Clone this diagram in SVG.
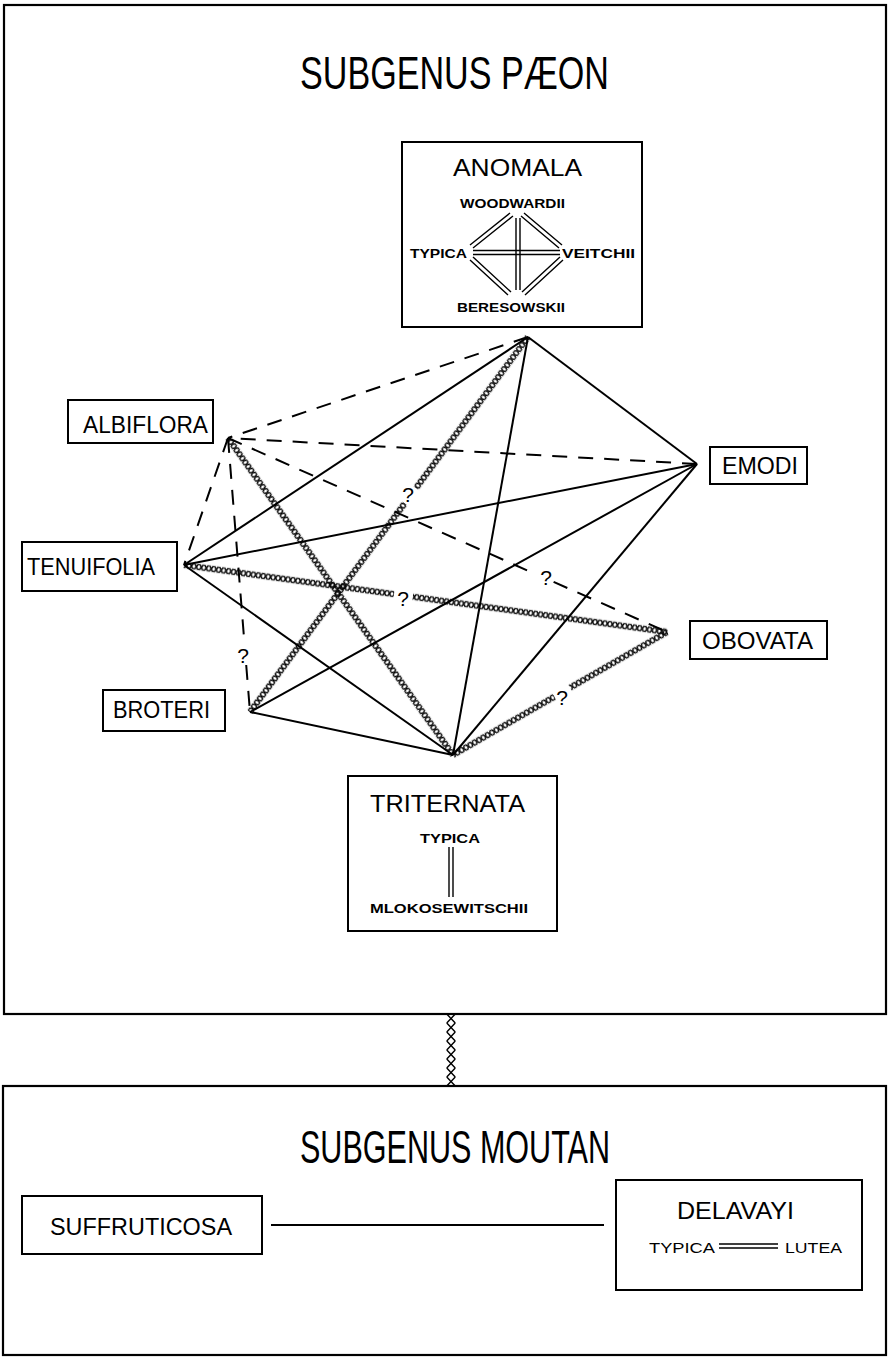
<svg xmlns="http://www.w3.org/2000/svg" width="888" height="1357" viewBox="0 0 888 1357">
<style>
.frame{fill:none;stroke:#000;stroke-width:2.2}
.box{fill:#fff;stroke:#000;stroke-width:2}
.big{font-family:"Liberation Sans",Arial,sans-serif;font-size:46px;fill:#000}
.lbl{font-family:"Liberation Sans",Arial,sans-serif;font-size:24px;fill:#000}
.sm{font-family:"Liberation Sans",Arial,sans-serif;font-size:13px;font-weight:bold;fill:#000}
.smn{font-family:"Liberation Sans",Arial,sans-serif;font-size:15px;fill:#000}
.q{font-family:"Liberation Sans",Arial,sans-serif;font-size:21px;fill:#000}
.solid{stroke:#000;stroke-width:2;fill:none}
.dash{stroke:#000;stroke-width:2;fill:none;stroke-dasharray:15 11}
.dbl{stroke:#000;stroke-width:1.4;fill:none}
</style>
<defs>
<pattern id="xs" patternUnits="userSpaceOnUse" x="0" y="-4" width="5" height="8">
<path d="M0.5,1 L4.5,7 M4.5,1 L0.5,7" stroke="#000" stroke-width="1.4" fill="none"/>
</pattern>
<pattern id="xs2" patternUnits="userSpaceOnUse" x="0" y="-5" width="9" height="10">
<path d="M0,0.8 L9,9.2 M9,0.8 L0,9.2" stroke="#000" stroke-width="1.5" fill="none"/>
</pattern>
</defs>
<rect x="0" y="0" width="888" height="1357" fill="#fff"/>

<g id="subgenus-paeon">
<rect class="frame" x="4" y="5" width="882" height="1009"/>
<text class="big" x="300" y="89" textLength="309" lengthAdjust="spacingAndGlyphs">SUBGENUS PÆON</text>
</g>

<g id="subgenus-moutan">
<rect class="frame" x="3" y="1086" width="883" height="269"/>
<text class="big" x="300" y="1163" textLength="310" lengthAdjust="spacingAndGlyphs">SUBGENUS MOUTAN</text>
</g>

<g id="connectors">
<line class="solid" x1="528" y1="337" x2="184" y2="565"/>
<line class="solid" x1="528" y1="337" x2="697" y2="464"/>
<line class="solid" x1="528" y1="337" x2="453" y2="755"/>
<line class="solid" x1="697" y1="464" x2="184" y2="565"/>
<line class="solid" x1="697" y1="464" x2="250" y2="712"/>
<line class="solid" x1="697" y1="464" x2="453" y2="755"/>
<line class="solid" x1="184" y1="565" x2="453" y2="755"/>
<line class="solid" x1="250" y1="712" x2="453" y2="755"/>
<line class="dash" x1="528" y1="337" x2="228" y2="438"/>
<line class="dash" x1="697" y1="464" x2="228" y2="438"/>
<line class="dash" x1="228" y1="438" x2="537" y2="574.7"/>
<line class="dash" x1="553.6" y1="581.9" x2="667" y2="632"/>
<line class="dash" x1="228" y1="438" x2="184" y2="565"/>
<line class="dash" x1="228" y1="438" x2="244.6" y2="645"/>
<line class="dash" x1="246.2" y1="665" x2="250" y2="712"/>
<text class="q" x="546" y="585" text-anchor="middle">?</text>
<text class="q" x="243" y="663" text-anchor="middle">?</text>
<g transform="translate(528 337) rotate(126.55)">
<rect x="0" y="-4" width="188" height="8" fill="url(#xs)"/>
<rect x="207" y="-4" width="260" height="8" fill="url(#xs)"/>
</g>
<g transform="translate(228 438) rotate(54.63)">
<rect x="0" y="-4" width="389" height="8" fill="url(#xs)"/>
</g>
<g transform="translate(184 565) rotate(7.9)">
<rect x="0" y="-4" width="212" height="8" fill="url(#xs)"/>
<rect x="231" y="-4" width="257" height="8" fill="url(#xs)"/>
</g>
<g transform="translate(453 755) rotate(-29.89)">
<rect x="0" y="-4" width="117" height="8" fill="url(#xs)"/>
<rect x="135" y="-4" width="112" height="8" fill="url(#xs)"/>
</g>
<text class="q" x="408" y="502" text-anchor="middle">?</text>
<text class="q" x="403" y="606" text-anchor="middle">?</text>
<text class="q" x="562" y="705" text-anchor="middle">?</text>
<g transform="translate(451 1014) rotate(90)">
<rect x="0" y="-5" width="72" height="10" fill="url(#xs2)"/>
</g>
<line class="solid" x1="271" y1="1225" x2="604" y2="1225"/>
</g>

<g id="anomala">
<rect class="box" x="402" y="142" width="240" height="185"/>
<text class="lbl" x="453" y="176" textLength="129" lengthAdjust="spacingAndGlyphs">ANOMALA</text>
<text class="sm" x="460" y="208" textLength="105" lengthAdjust="spacingAndGlyphs">WOODWARDII</text>
<text class="sm" x="410" y="258" textLength="57" lengthAdjust="spacingAndGlyphs">TYPICA</text>
<text class="sm" x="562" y="258" textLength="73" lengthAdjust="spacingAndGlyphs">VEITCHII</text>
<text class="sm" x="457" y="312" textLength="108" lengthAdjust="spacingAndGlyphs">BERESOWSKII</text>
<path class="dbl" d="M516,218 V290 M520,218 V290 M473,250.5 H560 M473,254.5 H560"/>
<path class="dbl" d="M470,245 L510,213 M473,248 L513,216"/>
<path class="dbl" d="M524,213 L562,245 M521,216 L559,248"/>
<path class="dbl" d="M473,257 L511,292 M470,260 L508,295"/>
<path class="dbl" d="M560,257 L522,292 M563,260 L525,295"/>
</g>

<g id="albiflora">
<rect class="box" x="68" y="400" width="145" height="43"/>
<text class="lbl" x="83" y="433" textLength="125" lengthAdjust="spacingAndGlyphs">ALBIFLORA</text>
</g>

<g id="tenuifolia">
<rect class="box" x="22" y="542" width="155" height="49"/>
<text class="lbl" x="27" y="575" textLength="128" lengthAdjust="spacingAndGlyphs">TENUIFOLIA</text>
</g>

<g id="emodi">
<rect class="box" x="710" y="447" width="97" height="37"/>
<text class="lbl" x="722" y="474" textLength="76" lengthAdjust="spacingAndGlyphs">EMODI</text>
</g>

<g id="obovata">
<rect class="box" x="690" y="621" width="137" height="38"/>
<text class="lbl" x="702" y="649" textLength="111" lengthAdjust="spacingAndGlyphs">OBOVATA</text>
</g>

<g id="broteri">
<rect class="box" x="103" y="690" width="122" height="41"/>
<text class="lbl" x="113" y="718" textLength="97" lengthAdjust="spacingAndGlyphs">BROTERI</text>
</g>

<g id="triternata">
<rect class="box" x="348" y="776" width="209" height="155"/>
<text class="lbl" x="370" y="812" textLength="155" lengthAdjust="spacingAndGlyphs">TRITERNATA</text>
<text class="sm" x="420" y="843" textLength="60" lengthAdjust="spacingAndGlyphs">TYPICA</text>
<path class="dbl" d="M449,847 V897 M453,847 V897"/>
<text class="sm" x="370" y="913" textLength="158" lengthAdjust="spacingAndGlyphs">MLOKOSEWITSCHII</text>
</g>

<g id="suffruticosa">
<rect class="box" x="22" y="1196" width="240" height="58"/>
<text class="lbl" x="50" y="1235" font-size="20" textLength="182" lengthAdjust="spacingAndGlyphs">SUFFRUTICOSA</text>
</g>

<g id="delavayi">
<rect class="box" x="616" y="1180" width="246" height="110"/>
<text class="lbl" x="677" y="1219" textLength="117" lengthAdjust="spacingAndGlyphs">DELAVAYI</text>
<text class="smn" x="649" y="1253" textLength="66" lengthAdjust="spacingAndGlyphs">TYPICA</text>
<path class="dbl" d="M719,1244 H778 M719,1248 H778"/>
<text class="smn" x="785" y="1253" textLength="57" lengthAdjust="spacingAndGlyphs">LUTEA</text>
</g>
</svg>
